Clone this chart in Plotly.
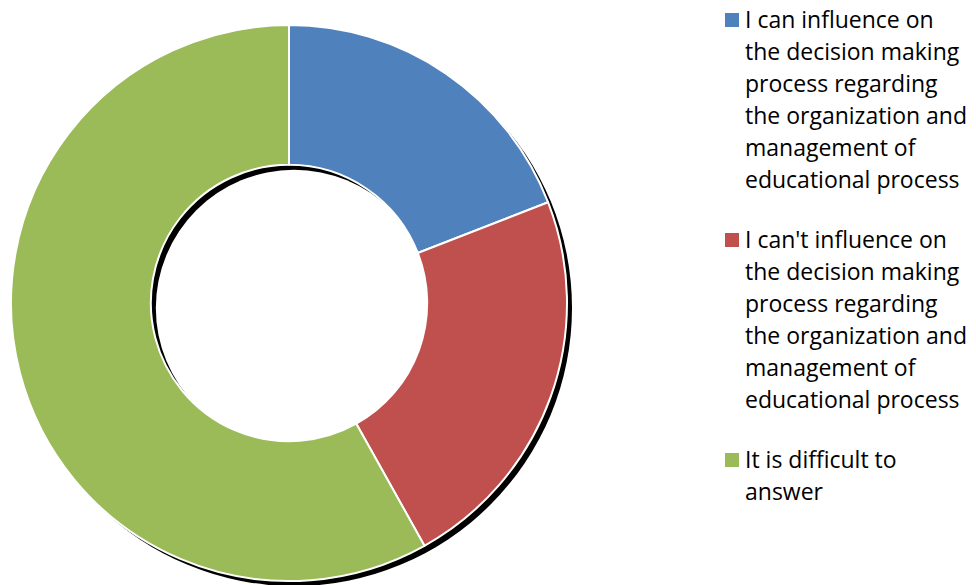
import plotly.graph_objects as go

# ---- data ----
categories = [
    "I can influence on the decision making process regarding the organization and management of educational process",
    "I can't influence on the decision making process regarding the organization and management of educational process",
    "It is difficult to answer",
]
values = [19.1, 22.8, 58.1]
colors = ["#4F81BD", "#C0504D", "#9BBB59"]
legend_lines = [
    ["I can influence on", "the decision making", "process regarding", "the organization and", "management of", "educational process"],
    ["I can't influence on", "the decision making", "process regarding", "the organization and", "management of", "educational process"],
    ["It is difficult to", "answer"],
]

# ---- layout constants (pixels) ----
W, H = 976, 585
CX, CY, R = 289, 303, 278
HOLE = 0.497
SH_OUT = 5.0  # outer shadow offset
SH_IN = 5.0   # inner shadow offset

def px(x):
    return x / W

def py(y):
    return 1 - y / H

fig = go.Figure()
fig.add_trace(go.Pie(
    labels=categories,
    values=values,
    marker=dict(colors=colors, line=dict(color="white", width=2)),
    hole=HOLE,
    sort=False,
    direction="clockwise",
    rotation=0,
    textinfo="none",
    hoverinfo="label+percent",
    showlegend=False,
    domain=dict(x=[px(CX - R), px(CX + R)], y=[py(CY + R), py(CY - R)]),
))

shapes = []
# outer shadow (drawn below the ring)
shapes.append(dict(type="circle", layer="below", xref="paper", yref="paper",
                   x0=px(CX - R + SH_OUT), x1=px(CX + R + SH_OUT),
                   y0=py(CY + R + SH_OUT), y1=py(CY - R + SH_OUT),
                   fillcolor="black", line=dict(width=0)))
# clear the hole, leaving inner shadow at the top-left
r_in = R * HOLE
shapes.append(dict(type="circle", layer="below", xref="paper", yref="paper",
                   x0=px(CX - r_in + SH_IN), x1=px(CX + r_in + SH_IN),
                   y0=py(CY + r_in + SH_IN), y1=py(CY - r_in + SH_IN),
                   fillcolor="white", line=dict(width=0)))

# custom legend
annotations = []
first_baselines = [29, 249, 469]
line_step = 32
FS = 23
for i, lines in enumerate(legend_lines):
    b0 = first_baselines[i]
    shapes.append(dict(type="rect", xref="paper", yref="paper",
                       x0=px(725), x1=px(739), y0=py(b0 - 2), y1=py(b0 - 16),
                       fillcolor=colors[i], line=dict(width=0)))
    for j, t in enumerate(lines):
        base = b0 + j * line_step
        annotations.append(dict(text=t, xref="paper", yref="paper",
                                x=px(744), y=py(base + 0.293 * FS),
                                xanchor="left", yanchor="bottom",
                                showarrow=False, borderpad=0,
                                font=dict(family="Open Sans", size=FS, color="black")))

fig.update_layout(
    width=W, height=H,
    margin=dict(l=0, r=0, t=0, b=0),
    paper_bgcolor="white",
    plot_bgcolor="white",
    shapes=shapes,
    annotations=annotations,
    showlegend=False,
)

fig.write_html("out.html", config={"displayModeBar": False},
               post_script="document.body.style.margin='0';")
